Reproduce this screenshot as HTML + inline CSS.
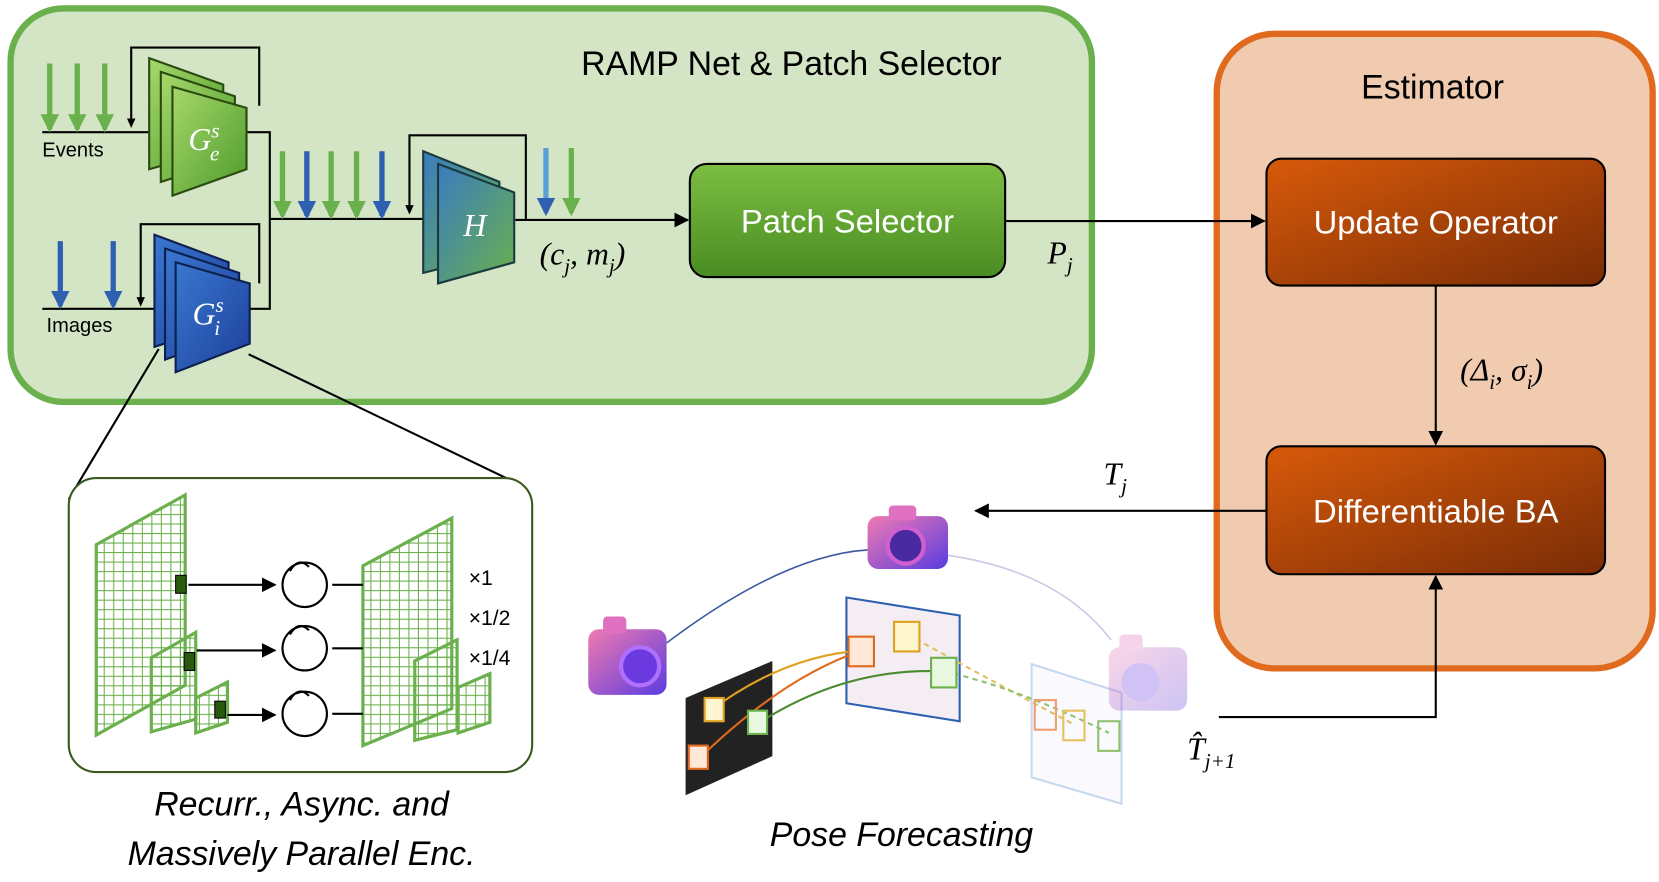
<!DOCTYPE html>
<html><head><meta charset="utf-8"><style>
html,body{margin:0;padding:0;background:#fff}
svg{display:block}
text{font-family:"Liberation Sans",sans-serif}
.it{font-family:"Liberation Serif",serif;font-style:italic}
</style></head><body>
<svg width="1659" height="882" viewBox="0 0 1568 834" preserveAspectRatio="none" xmlns="http://www.w3.org/2000/svg">
<defs>
<marker id="ar" viewBox="0 0 10 10" refX="9" refY="5" markerWidth="7" markerHeight="7" orient="auto"><path d="M0,0L10,5L0,10z" fill="#000"/></marker>
<marker id="ga" viewBox="0 0 10 10" refX="8" refY="5" markerWidth="3.5" markerHeight="3.5" orient="auto"><path d="M0,0L10,5L0,10z" fill="#6ab04c"/></marker>
<marker id="ba" viewBox="0 0 10 10" refX="8" refY="5" markerWidth="3.5" markerHeight="3.5" orient="auto"><path d="M0,0L10,5L0,10z" fill="#2f5fb0"/></marker>
<linearGradient id="og" x1="0" y1="0" x2="1" y2="1"><stop offset="0" stop-color="#d85a0a"/><stop offset="1" stop-color="#7a2c06"/></linearGradient>
<linearGradient id="pg" x1="0" y1="0" x2="0" y2="1"><stop offset="0" stop-color="#7cbe42"/><stop offset="1" stop-color="#4a8c22"/></linearGradient>
<linearGradient id="gg" x1="0" y1="0" x2="1" y2="1"><stop offset="0" stop-color="#a6d86a"/><stop offset="1" stop-color="#4e9a2c"/></linearGradient>
<linearGradient id="bg" x1="0" y1="0" x2="1" y2="1"><stop offset="0" stop-color="#3a78d0"/><stop offset="1" stop-color="#1c3f9a"/></linearGradient>
<linearGradient id="hg" x1="0" y1="0" x2="1" y2="1"><stop offset="0" stop-color="#3a7cc0"/><stop offset="1" stop-color="#6ab04c"/></linearGradient>
<linearGradient id="cam" x1="0" y1="0" x2="1" y2="1"><stop offset="0" stop-color="#f07ab0"/><stop offset="1" stop-color="#5a3ce0"/></linearGradient>
<pattern id="grid" width="9" height="9" patternUnits="userSpaceOnUse"><path d="M0,0H9V9" fill="none" stroke="#6ab04c" stroke-width="2"/></pattern>
</defs>

<!-- Green panel -->
<rect x="10" y="8" width="1022" height="372" rx="50" fill="#d3e5c5" stroke="#6ab04c" stroke-width="6"/>
<text x="748" y="71" font-size="32" text-anchor="middle">RAMP Net &amp; Patch Selector</text>

<!-- Estimator panel -->
<rect x="1150" y="32" width="412" height="600" rx="55" fill="#f1cbb0" stroke="#e06a1e" stroke-width="6"/>
<text x="1354" y="93" font-size="32" text-anchor="middle">Estimator</text>
<rect x="1197" y="150" width="320" height="120" rx="14" fill="url(#og)" stroke="#000" stroke-width="2"/>
<text x="1357" y="221" font-size="31" fill="#fff" text-anchor="middle">Update Operator</text>
<rect x="1197" y="422" width="320" height="121" rx="14" fill="url(#og)" stroke="#000" stroke-width="2"/>
<text x="1357" y="494" font-size="31" fill="#fff" text-anchor="middle">Differentiable BA</text>

<!-- Patch selector -->
<rect x="652" y="155" width="298" height="107" rx="16" fill="url(#pg)" stroke="#000" stroke-width="2"/>
<text x="801" y="220" font-size="31" fill="#fff" text-anchor="middle">Patch Selector</text>

<!-- connectors -->
<g stroke="#000" stroke-width="2" fill="none">
<line x1="950" y1="209" x2="1195" y2="209" marker-end="url(#ar)"/>
<line x1="1357" y1="270" x2="1357" y2="420" marker-end="url(#ar)"/>
<line x1="1197" y1="483" x2="922" y2="483" marker-end="url(#ar)"/>
<polyline points="1152,678 1357,678 1357,545" marker-end="url(#ar)"/>
<line x1="487" y1="208" x2="650" y2="208" marker-end="url(#ar)"/>
<!-- events / images input lines -->
<line x1="40" y1="125" x2="142" y2="125"/>
<line x1="40" y1="292" x2="148" y2="292"/>
<polyline points="233,125 255,125 255,292 236,292"/>
<line x1="255" y1="207" x2="402" y2="207"/>
<polyline points="124,118 124,45 245,45 245,100"/>
<polyline points="133,287 133,212 245,212 245,268"/>
<polyline points="387,200 387,128 497,128 497,207"/>
<!-- zoom lines -->
<line x1="150" y1="330" x2="65" y2="472"/>
<line x1="235" y1="335" x2="495" y2="460"/>
</g>
<g fill="#000"><path d="M120,112L128,112L124,121z"/><path d="M129,281L137,281L133,290z"/><path d="M383,194L391,194L387,203z"/></g>

<text x="990" y="249" font-size="30" class="it">P<tspan font-size="20" dy="8">j</tspan></text>
<text x="1380" y="360" font-size="30" class="it">(Δ<tspan font-size="20" dy="8">i</tspan><tspan dy="-8">, σ</tspan><tspan font-size="20" dy="8">i</tspan><tspan dy="-8">)</tspan></text>
<text x="1043" y="458" font-size="30" class="it">T<tspan font-size="20" dy="8">j</tspan></text>
<text x="1122" y="718" font-size="30" class="it">T̂<tspan font-size="20" dy="8">j+1</tspan></text>
<text x="510" y="250" font-size="30" class="it">(c<tspan font-size="20" dy="8">j</tspan><tspan dy="-8">, m</tspan><tspan font-size="20" dy="8">j</tspan><tspan dy="-8">)</tspan></text>

<!-- arrows -->
<g stroke-width="5">
<line x1="47" y1="60" x2="47" y2="122" stroke="#6ab04c" marker-end="url(#ga)"/>
<line x1="73" y1="60" x2="73" y2="122" stroke="#6ab04c" marker-end="url(#ga)"/>
<line x1="99" y1="60" x2="99" y2="122" stroke="#6ab04c" marker-end="url(#ga)"/>
<line x1="57" y1="228" x2="57" y2="289" stroke="#2f5fb0" marker-end="url(#ba)"/>
<line x1="107" y1="228" x2="107" y2="289" stroke="#2f5fb0" marker-end="url(#ba)"/>
<line x1="267" y1="143" x2="267" y2="204" stroke="#6ab04c" marker-end="url(#ga)"/>
<line x1="290" y1="143" x2="290" y2="204" stroke="#2f5fb0" marker-end="url(#ba)"/>
<line x1="313" y1="143" x2="313" y2="204" stroke="#6ab04c" marker-end="url(#ga)"/>
<line x1="337" y1="143" x2="337" y2="204" stroke="#6ab04c" marker-end="url(#ga)"/>
<line x1="361" y1="143" x2="361" y2="204" stroke="#2f5fb0" marker-end="url(#ba)"/>
<line x1="516" y1="140" x2="516" y2="201" stroke="#5aa0d8" marker-end="url(#ba)"/>
<line x1="540" y1="140" x2="540" y2="201" stroke="#6ab04c" marker-end="url(#ga)"/>
</g>
<text x="40" y="148" font-size="19">Events</text>
<text x="44" y="314" font-size="19">Images</text>

<!-- Ge stack -->
<g stroke="#2a4a10" stroke-width="2" fill="url(#gg)">
<polygon points="141,55 211,80 211,140 141,160"/>
<polygon points="152,68 222,91 222,150 152,172"/>
<polygon points="163,82 233,102 233,160 163,185"/>
</g>
<text x="178" y="142" font-size="30" class="it" fill="#fff">G<tspan font-size="20" dy="-12">s</tspan><tspan font-size="20" dx="-9" dy="22">e</tspan></text>
<!-- Gi stack -->
<g stroke="#0e2050" stroke-width="2" fill="url(#bg)">
<polygon points="146,222 216,248 216,305 146,328"/>
<polygon points="156,235 226,258 226,315 156,340"/>
<polygon points="166,248 236,268 236,325 166,352"/>
</g>
<text x="182" y="307" font-size="30" class="it" fill="#fff">G<tspan font-size="20" dy="-12">s</tspan><tspan font-size="20" dx="-9" dy="22">i</tspan></text>
<!-- H -->
<g stroke="#1a3a40" stroke-width="2" fill="url(#hg)">
<polygon points="400,143 472,172 472,240 400,258"/>
<polygon points="414,155 486,182 486,248 414,268"/>
</g>
<text x="438" y="223" font-size="30" class="it" fill="#fff">H</text>

<!-- Inset -->
<rect x="65" y="452" width="438" height="278" rx="26" fill="#fff" stroke="#3a5a20" stroke-width="2"/>
<g stroke="#6ab04c" stroke-width="3" fill="url(#grid)">
<polygon points="91,515 175,468 175,648 91,695"/>
<polygon points="143,622 185,598 185,680 143,692"/>
<polygon points="185,660 215,645 215,683 185,693"/>
<polygon points="343,535 427,490 427,670 343,705"/>
<polygon points="392,625 432,605 432,690 392,700"/>
<polygon points="433,650 463,637 463,683 433,693"/>
</g>
<g fill="#2a5a10" stroke="#000"><rect x="166" y="544" width="10" height="17"/><rect x="174" y="617" width="10" height="17"/><rect x="203" y="663" width="10" height="16"/></g>
<g stroke="#000" stroke-width="2" fill="#fff">
<line x1="178" y1="553" x2="260" y2="553" marker-end="url(#ar)"/>
<line x1="186" y1="615" x2="260" y2="615" marker-end="url(#ar)"/>
<line x1="215" y1="676" x2="260" y2="676" marker-end="url(#ar)"/>
<circle cx="288" cy="553" r="21"/><circle cx="288" cy="613" r="21"/><circle cx="288" cy="675" r="21"/>
<line x1="314" y1="553" x2="343" y2="553"/><line x1="314" y1="613" x2="343" y2="613"/><line x1="314" y1="675" x2="343" y2="675"/>
<path d="M274,540 q8,-14 18,-4" fill="none"/><path d="M274,600 q8,-14 18,-4" fill="none"/><path d="M274,662 q8,-14 18,-4" fill="none"/>
</g>
<text x="443" y="553" font-size="20">×1</text>
<text x="443" y="591" font-size="20">×1/2</text>
<text x="443" y="629" font-size="20">×1/4</text>
<text x="285" y="771" font-size="32" class="it" text-anchor="middle" style="font-family:'Liberation Sans',sans-serif">Recurr., Async. and</text>
<text x="285" y="818" font-size="32" class="it" text-anchor="middle" style="font-family:'Liberation Sans',sans-serif">Massively Parallel Enc.</text>
<text x="852" y="800" font-size="32" class="it" text-anchor="middle" style="font-family:'Liberation Sans',sans-serif">Pose Forecasting</text>

<!-- Pose forecasting scene -->
<path d="M630,608 Q740,525 820,520" stroke="#3a5aa0" stroke-width="1.5" fill="none"/>
<path d="M895,525 Q1000,540 1050,605" stroke="#c8c8e8" stroke-width="1.5" fill="none"/>
<polygon points="648,660 730,625 730,715 648,752" fill="#222"/>
<polygon points="800,565 907,582 907,682 800,665" fill="#f4eef4" stroke="#2f5fb0" stroke-width="2"/>
<polygon points="975,628 1060,655 1060,760 975,735" fill="#fafafe" stroke="#c8d8f0" stroke-width="2"/>
<g fill="none" stroke-width="2">
<path d="M670,673 Q740,620 815,615" stroke="#e0a020"/>
<path d="M660,718 Q740,640 815,615" stroke="#e06a1e"/>
<path d="M715,685 Q800,630 893,635" stroke="#4a8a30"/>
<path d="M858,600 Q930,640 1015,685" stroke="#e0c060" stroke-dasharray="5,4"/>
<path d="M893,635 Q960,650 1048,693" stroke="#90c070" stroke-dasharray="5,4"/>
<rect x="666" y="660" width="18" height="22" stroke="#e0a020" fill="#fff6d0"/>
<rect x="651" y="705" width="18" height="22" stroke="#e06a1e" fill="#ffe8d8"/>
<rect x="707" y="672" width="18" height="22" stroke="#6ab04c" fill="#e8f8e0"/>
<rect x="802" y="602" width="24" height="28" stroke="#e06a1e" fill="#ffe8d8"/>
<rect x="845" y="588" width="24" height="28" stroke="#e0a020" fill="#fff6d0"/>
<rect x="880" y="622" width="24" height="28" stroke="#6ab04c" fill="#e8f8e0"/>
<rect x="978" y="662" width="20" height="28" stroke="#f0a070"/>
<rect x="1005" y="672" width="20" height="28" stroke="#e8c060"/>
<rect x="1038" y="682" width="20" height="28" stroke="#90c070"/>
</g>
<!-- cameras -->
<g>
<rect x="820" y="488" width="76" height="50" rx="10" fill="url(#cam)"/>
<rect x="840" y="478" width="26" height="14" rx="4" fill="#e070c0"/>
<circle cx="856" cy="516" r="17" fill="#4a2aa0" stroke="#d060d0" stroke-width="4"/>
<rect x="556" y="595" width="74" height="62" rx="10" fill="url(#cam)"/>
<rect x="570" y="583" width="22" height="16" rx="4" fill="#e070c0"/>
<circle cx="605" cy="630" r="18" fill="#6a3ae0" stroke="#b070ff" stroke-width="4"/>
<g opacity="0.3">
<rect x="1048" y="612" width="74" height="60" rx="10" fill="url(#cam)"/>
<rect x="1058" y="600" width="22" height="16" rx="4" fill="#e070c0"/>
<circle cx="1078" cy="645" r="18" fill="#6a3ae0"/>
</g>
</g>
</svg>
</body></html>
